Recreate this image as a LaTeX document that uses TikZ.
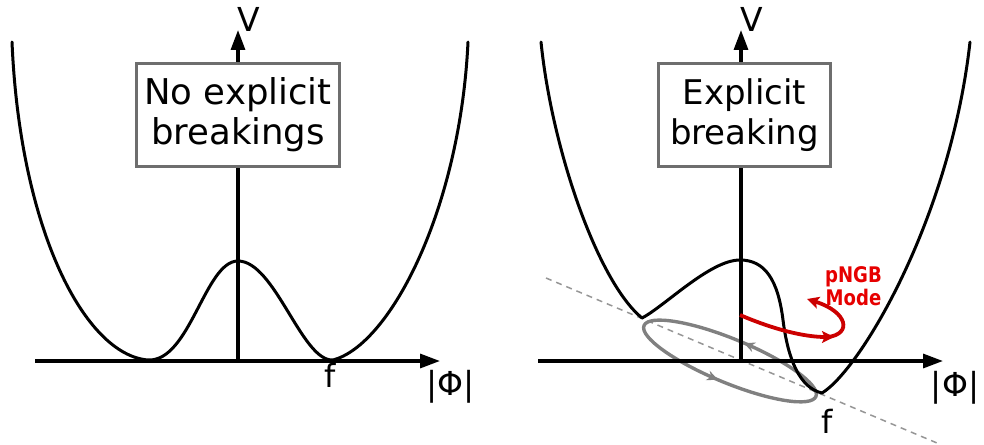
\documentclass[tikz,border=0pt]{standalone}
\usepackage{fontspec}
\setmainfont{DejaVu Sans}
\newfontfamily\redfont[FakeStretch=0.84]{DejaVu Sans}
\usetikzlibrary{arrows.meta,decorations.markings}
\definecolor{boxgray}{RGB}{110,110,110}
\definecolor{ellgray}{RGB}{128,128,128}
\definecolor{dashgray}{RGB}{150,150,150}
\definecolor{modered}{RGB}{230,0,0}
\definecolor{arrowred}{RGB}{204,0,0}
\begin{document}
\begin{tikzpicture}[x=1pt,y=-1pt,
  curve/.style={line width=3pt, line join=round, line cap=round},
  axis/.style={line width=3.2pt, -{Triangle[length=20pt,width=14pt]}},
  labelbox/.style={draw=boxgray, line width=2.8pt, fill=white, inner sep=0pt, align=center, minimum height=103pt},
  axlabel/.style={inner sep=0pt, font=\fontsize{33}{38}\selectfont},
  dashline/.style={dashgray, line width=1.5pt, dash pattern=on 6pt off 5pt},
  ellipsepath/.style={ellgray, line width=3.4pt, postaction={decorate},
    decoration={markings,
      mark=at position 0.235 with {\arrow{Stealth[length=11pt,width=10pt]}},
      mark=at position 0.74 with {\arrow{Stealth[length=11pt,width=10pt]}}}},
  redarrow/.style={arrowred, line width=3.8pt, -{Stealth[length=12pt,width=12pt,inset=2.5pt]}},
  modelabel/.style={inner sep=0pt, align=center, text=modered, font=\redfont\bfseries\fontsize{21.5}{23.3}\selectfont}
]
\useasboundingbox (0,0) rectangle (984,444);

% ---------- left panel ----------
\coordinate (O1) at (238,361);
\coordinate (xs1) at (35,361);
\coordinate (xe1) at (440,361);
\coordinate (ye1) at (238,30);
\draw[axis] (xs1) -- (xe1);
\draw[axis] (O1) -- (ye1);
\draw[curve] (12,42) .. controls (20,230) and (85,355) .. (148,360)
  .. controls (190,362) and (205,261) .. (238,261)
  .. controls (275,261) and (302,362) .. (333,360)
  .. controls (390,345) and (460,210) .. (468,42);
\node[labelbox, minimum width=203pt, font=\fontsize{35.5}{40}\selectfont] (box1) at (238,115) {No explicit\\breakings};
\node[axlabel] (V1) at (249,19) {V};
\node[axlabel, font=\fontsize{32}{38}\selectfont] (f1) at (330,375) {f};
\node[axlabel] (phi1) at (450.5,386.5) {|Φ|};

% ---------- right panel ----------
\coordinate (O2) at (741,361);
\coordinate (xs2) at (538,361);
\coordinate (xe2) at (943,361);
\coordinate (ye2) at (741,30);
\coordinate (d1) at (546,278);
\coordinate (d2) at (937,443);
\coordinate (E) at (730,361);
\draw[dashline] (d1) -- (d2);
\draw[ellipsepath, rotate around={-22.4:(E)}] (E) ellipse [x radius=93pt, y radius=22pt];
\draw[axis] (xs2) -- (xe2);
\draw[axis] (O2) -- (ye2);
\draw[curve] (541,42) .. controls (552,150) and (598,282) .. (642,318)
  .. controls (665,306) and (710,260) .. (740,260)
  .. controls (765,260) and (778,280) .. (783,320)
  .. controls (788,360) and (800,388) .. (822,393)
  .. controls (860,370) and (950,220) .. (970,42);
\node[labelbox, minimum width=172pt, font=\fontsize{34}{40}\selectfont] (box2) at (744.5,115) {Explicit\\breaking};
\node[axlabel] (V2) at (752,19) {V};
\node[axlabel, font=\fontsize{32}{38}\selectfont] (f2) at (827,421.5) {f};
\node[axlabel] (phi2) at (955,387.5) {|Φ|};

% pNGB mode arrow
\coordinate (r0) at (740,315);
\coordinate (r1) at (834,337);
\coordinate (r1b) at (828,337);
\coordinate (r2) at (807,299);
\draw[redarrow] (r0) .. controls (775,330) and (805,337) .. (r1);
\draw[redarrow] (r1b) .. controls (852,334) and (848,312) .. (r2);
\node[modelabel] (mode) at (853.5,286) {pNGB\\Mode};
\end{tikzpicture}
\end{document}
